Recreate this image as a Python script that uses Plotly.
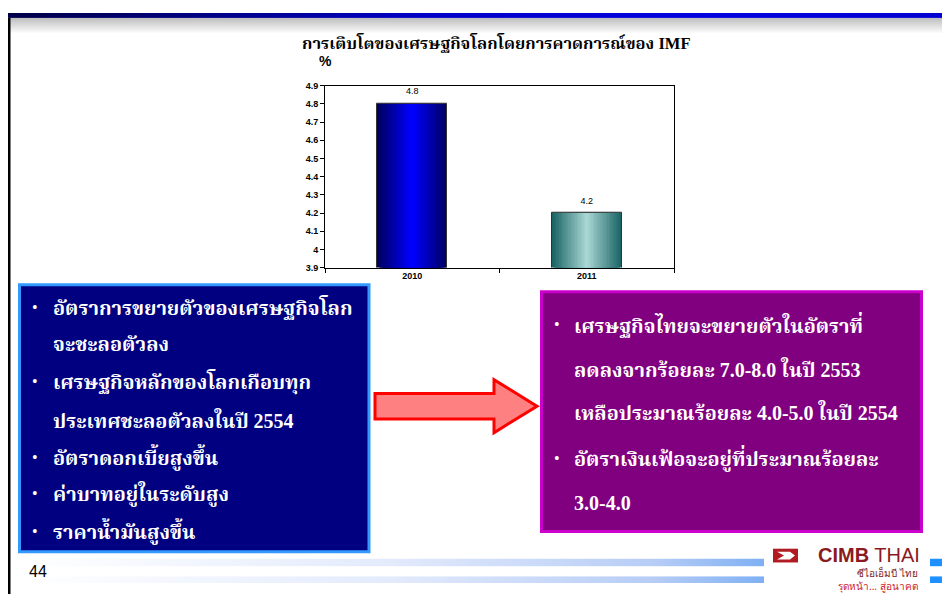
import base64
import plotly.graph_objects as go

# chart data
years = ["2010", "2011"]
growth = [4.8, 4.2]
y_ticks = [3.9, 4.0, 4.1, 4.2, 4.3, 4.4, 4.5, 4.6, 4.7, 4.8, 4.9]

title_text = "การเติบโตของเศรษฐกิจโลกโดยการคาดการณ์ของ IMF"
left_lines = [
    ("•", "อัตราการขยายตัวของเศรษฐกิจโลก"),
    ("", "จะชะลอตัวลง"),
    ("•", "เศรษฐกิจหลักของโลกเกือบทุก"),
    ("", "ประเทศชะลอตัวลงในปี 2554"),
    ("•", "อัตราดอกเบี้ยสูงขึ้น"),
    ("•", "ค่าบาทอยู่ในระดับสูง"),
    ("•", "ราคาน้ำมันสูงขึ้น"),
]
right_lines = [
    ("•", "เศรษฐกิจไทยจะขยายตัวในอัตราที่"),
    ("", "ลดลงจากร้อยละ 7.0-8.0 ในปี 2553"),
    ("", "เหลือประมาณร้อยละ 4.0-5.0 ในปี 2554"),
    ("•", "อัตราเงินเฟ้อจะอยู่ที่ประมาณร้อยละ"),
    ("", "3.0-4.0"),
]

# page body keeps an 8px margin, so the figure is sized to fit inside it
OFF = 8
W, H = 950 - 2 * OFF, 602 - 2 * OFF
px = lambda x: (x - OFF) / W
py = lambda y: 1 - (y - OFF) / H

THAI = "Liberation Serif, Noto Serif Thai, Noto Sans Thai, serif"


def svg_uri(svg):
    return "data:image/svg+xml;base64," + base64.b64encode(svg.encode()).decode()


def grad(stops, vertical=False):
    x2, y2 = ("0", "1") if vertical else ("1", "0")
    st = "".join(f'<stop offset="{o}" stop-color="{c}"/>' for o, c in stops)
    return svg_uri(
        f'<svg xmlns="http://www.w3.org/2000/svg" width="100" height="100" preserveAspectRatio="none">'
        f'<defs><linearGradient id="g" x1="0" y1="0" x2="{x2}" y2="{y2}">{st}</linearGradient></defs>'
        f'<rect width="100" height="100" fill="url(#g)"/></svg>')


def lerp(c1, c2, t):
    a = [int(c1[i:i + 2], 16) for i in (1, 3, 5)]
    b = [int(c2[i:i + 2], 16) for i in (1, 3, 5)]
    return "#" + "".join(f"{round(a[k] + (b[k] - a[k]) * t):02x}" for k in range(3))


def note(text, x, y, size, color="#000", family=THAI, xanchor="center"):
    return dict(text=text, x=px(x), y=py(y), xref="paper", yref="paper", showarrow=False,
                xanchor=xanchor, yanchor="middle", font=dict(family=family, size=size, color=color))


fig = go.Figure()

# gradient bars: overlaid layers, narrowing toward the highlight
edge_cols = ["#000060", "#1a6466"]
mid_cols = ["#0000ff", "#a8d6d2"]
n = 24
for i in range(n):
    t = i / (n - 1)
    fig.add_trace(go.Bar(
        x=years, y=growth, width=0.4 * (1 - i / n),
        marker=dict(color=[lerp(edge_cols[k], mid_cols[k], t) for k in range(2)],
                    line=dict(color="#333333" if i == 0 else "rgba(0,0,0,0)", width=1 if i == 0 else 0)),
        hoverinfo="skip", showlegend=False,
    ))

fig.add_trace(go.Scatter(
    x=years, y=growth, mode="markers+text", text=[f"{v:.1f}" for v in growth],
    marker=dict(size=10, color="rgba(0,0,0,0)"), cliponaxis=False,
    textposition="top center", textfont=dict(size=9, color="#000", family="Liberation Sans"),
    showlegend=False, hoverinfo="skip",
))

shapes = []
# left black border
shapes.append(dict(type="rect", xref="paper", yref="paper", x0=px(8), x1=px(10.5), y0=py(602), y1=py(13),
                   fillcolor="#000", line_width=0, layer="below"))
# left navy box
shapes.append(dict(type="rect", xref="paper", yref="paper", x0=px(19.5), x1=px(369), y0=py(556), y1=py(284.5),
                   fillcolor="#000080", line=dict(color="#3399ff", width=3)))
# right purple box
shapes.append(dict(type="rect", xref="paper", yref="paper", x0=px(541.5), x1=px(921.5), y0=py(535.5), y1=py(291.5),
                   fillcolor="#800080", line=dict(color="#cc00cc", width=3)))
# arrow
pts = [(375, 395), (494, 395), (494, 381), (537, 408), (494, 435), (494, 421), (375, 421)]
path = "M " + " L ".join(f"{px(x):.5f},{py(y):.5f}" for x, y in pts) + " Z"
shapes.append(dict(type="path", xref="paper", yref="paper", path=path,
                   fillcolor="#ff8080", line=dict(color="#ff0000", width=3)))
# logo backdrop and icon
shapes.append(dict(type="rect", xref="paper", yref="paper", x0=px(764), x1=px(927), y0=py(602), y1=py(546),
                   fillcolor="#ffffff", line_width=0))
shapes.append(dict(type="rect", xref="paper", yref="paper", x0=px(773), x1=px(798), y0=py(567), y1=py(553),
                   fillcolor="#b01c22", line_width=0))
chev = [(777, 556), (790, 556), (795, 560), (790, 564), (777, 564), (784, 560)]
shapes.append(dict(type="path", xref="paper", yref="paper",
                   path="M " + " L ".join(f"{px(x):.5f},{py(y):.5f}" for x, y in chev) + " Z",
                   fillcolor="#ffffff", line_width=0))

images = [
    dict(source=grad([(0, "#000048"), (0.45, "#0000c8"), (0.75, "#0000e0"), (1, "#0000d0")]),
         xref="paper", yref="paper", x=0, y=1, sizex=1, sizey=5 / H, sizing="stretch",
         xanchor="left", yanchor="top", layer="below"),
    dict(source=grad([(0, "#bdbdbd"), (1, "#ffffff")], vertical=True),
         xref="paper", yref="paper", x=0, y=py(13), sizex=1, sizey=16 / H, sizing="stretch",
         xanchor="left", yanchor="top", layer="below"),
]
for y0, y1 in [(563, 571), (581, 588)]:
    images.append(dict(source=grad([(0, "#ffffff"), (0.5, "#e2eafc"), (0.85, "#b7cdf6"), (1, "#7fb0f4")]),
                       xref="paper", yref="paper", x=px(25), y=py(y0), sizex=(764 - 25) / W, sizey=(y1 - y0) / H,
                       sizing="stretch", xanchor="left", yanchor="top", layer="below"))
    images.append(dict(source=grad([(0, "#1e90ff"), (1, "#1e90ff")]),
                       xref="paper", yref="paper", x=px(930), y=py(y0), sizex=20 / W, sizey=(y1 - y0) / H,
                       sizing="stretch", xanchor="left", yanchor="top", layer="below"))

ann = [
    note(f"<b>{title_text}</b>", 497, 39, 16.5),
    note("<b>%</b>", 325, 57, 14, family="Liberation Sans"),
]
for (b, txt), yc in zip(left_lines, [308, 345, 383, 422, 460, 497, 535]):
    if b:
        ann.append(note(b, 35, yc, 16, "#fff", "Liberation Serif"))
    ann.append(note(f"<b>{txt}</b>", 51, yc, 20, "#fff", xanchor="left"))
for (b, txt), yc in zip(right_lines, [325, 370, 414, 461, 506]):
    if b:
        ann.append(note(b, 557, yc, 16, "#fff", "Liberation Serif"))
    ann.append(note(f"<b>{txt}</b>", 572, yc, 20, "#fff", xanchor="left"))

ann += [
    note("44", 27, 576, 16, family="Liberation Sans", xanchor="left"),
    note("<b>CIMB</b> THAI", 922, 559, 20, "#8b1a1f", "Liberation Sans", xanchor="right"),
    dict(note("ซีไอเอ็มบี ไทย<br><span style='color:#d0202a'>รุดหน้า... สู่อนาคต</span>",
              920, 584, 10, "#7a1a1f", "Noto Sans, sans-serif", xanchor="right"), align="right"),
]

fig.update_layout(
    width=W, height=H, margin=dict(l=0, r=0, t=0, b=0),
    paper_bgcolor="white", plot_bgcolor="white",
    barmode="overlay", bargap=0,
    shapes=shapes, images=images, annotations=ann,
    xaxis=dict(domain=[px(325), px(674)], type="category", showline=True, linecolor="#000", linewidth=1,
               mirror=True, ticks="outside", tickson="boundaries", ticklen=4, tickcolor="#000",
               tickfont=dict(family="Liberation Sans", size=9, color="#000", weight="bold"),
               showgrid=False, fixedrange=True),
    yaxis=dict(domain=[py(267), py(82)], range=[3.9, 4.9], tickvals=y_ticks, showline=True,
               linecolor="#000", linewidth=1, mirror=True, ticks="outside", ticklen=4, tickcolor="#000",
               tickfont=dict(family="Liberation Sans", size=9, color="#000", weight="bold"), showgrid=False,
               zeroline=False, fixedrange=True),
)

fig.write_html("out.html")
